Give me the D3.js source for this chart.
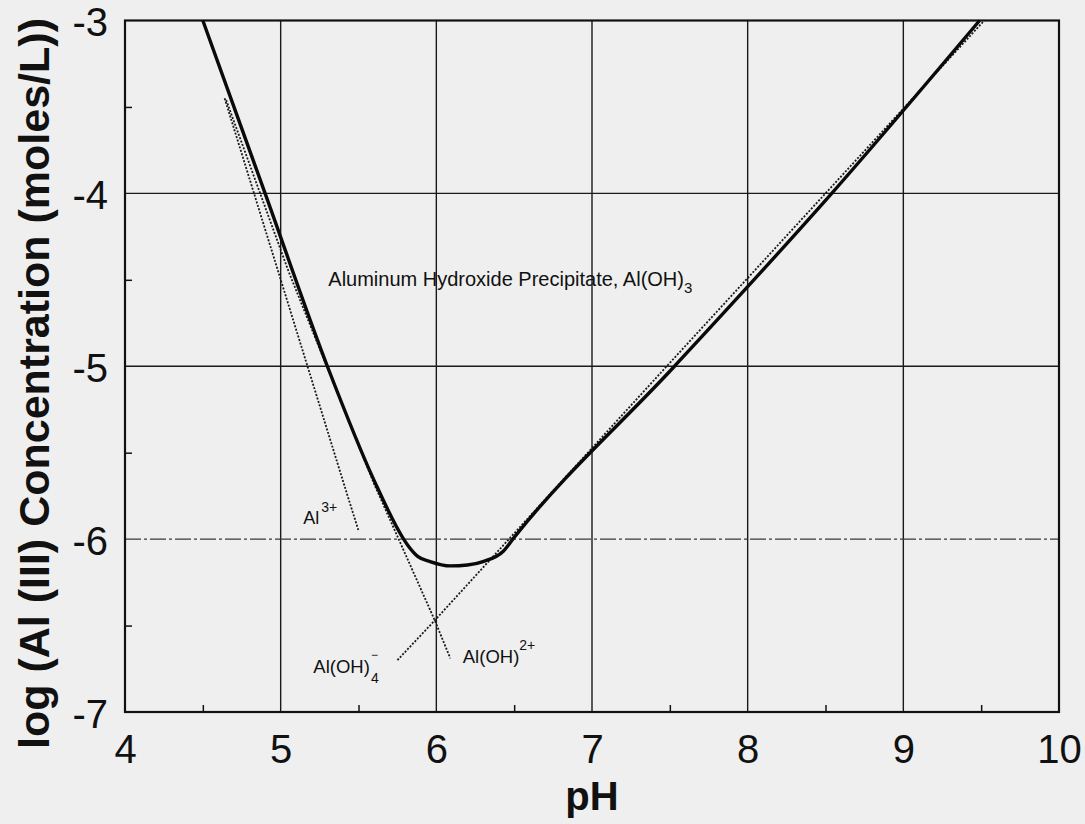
<!DOCTYPE html>
<html>
<head>
<meta charset="utf-8">
<script src="https://cdn.jsdelivr.net/npm/d3@7"></script>
<style>
  body { margin: 0; background: #efefef; }
  svg { display: block; font-family: "Liberation Sans", Arial, sans-serif; }
</style>
</head>
<body>
<div id="chart-area"></div>
<script>
// total dissolved Al (solid curve)
var totalPH  = [4.50, 4.90, 5.30, 5.60, 5.79, 5.82, 5.88, 5.96, 6.09, 6.20, 6.30, 6.43, 6.50, 7.53, 8.54, 9.49];
var totalLog = [-3.00, -4.00, -5.00, -5.66, -6.00, -6.04, -6.10, -6.13, -6.155, -6.15, -6.13, -6.07, -5.99, -5.00, -4.00, -3.00];

// species lines (dotted)
var al3PH  = [4.64, 5.43, 5.50];
var al3Log = [-3.45, -5.75, -5.95];

var aloh2PH  = [4.65, 5.05, 5.60, 5.99, 6.09];
var aloh2Log = [-3.46, -4.45, -5.68, -6.47, -6.69];

var aloh4PH  = [5.75, 5.99, 7.48, 9.52];
var aloh4Log = [-6.70, -6.47, -5.00, -3.00];

var xTicks = [4, 5, 6, 7, 8, 9, 10];
var yTicks = [-3, -4, -5, -6, -7];
var xMinor = [4.5, 5.5, 6.5, 7.5, 8.5, 9.5];
var yMinor = [-3.5, -4.5, -5.5, -6.5];

var margin = {top: 20.5, right: 26, bottom: 112, left: 125};
var width = 1085 - margin.left - margin.right;
var height = 824 - margin.top - margin.bottom;

var svg = d3.select("#chart-area").append("svg")
    .attr("width", 1085)
    .attr("height", 824)
    .append("g")
    .attr("transform", "translate(" + margin.left + "," + margin.top + ")");

var xScale = d3.scaleLinear().domain([4, 10]).range([0, width]);
var yScale = d3.scaleLinear().domain([-7, -3]).range([height, 0]);

// grid
svg.selectAll(".vgrid").data([5, 6, 7, 8, 9]).enter().append("line")
    .attr("x1", function(d) { return xScale(d); })
    .attr("x2", function(d) { return xScale(d); })
    .attr("y1", 0).attr("y2", height)
    .style("stroke", "#1a1a1a").style("stroke-width", 1.4);

svg.selectAll(".hgrid").data([-4, -5, -6]).enter().append("line")
    .attr("x1", 0).attr("x2", width)
    .attr("y1", function(d) { return yScale(d); })
    .attr("y2", function(d) { return yScale(d); })
    .style("stroke", function(d) { return d == -6 ? "#3a3a3a" : "#1a1a1a"; })
    .style("stroke-width", 1.4)
    .style("stroke-dasharray", function(d) { return d == -6 ? "16,3,3,3" : null; });

// minor ticks (inside)
var xMinorAxis = d3.axisBottom(xScale).tickValues(xMinor).tickSize(-7).tickFormat("");
svg.append("g").attr("transform", "translate(0," + height + ")").call(xMinorAxis)
    .call(function(g) { g.select(".domain").remove(); })
    .selectAll("line").style("stroke", "#111").style("stroke-width", 1.5);

var yMinorAxis = d3.axisLeft(yScale).tickValues(yMinor).tickSize(-7).tickFormat("");
svg.append("g").call(yMinorAxis)
    .call(function(g) { g.select(".domain").remove(); })
    .selectAll("line").style("stroke", "#111").style("stroke-width", 1.5);

// tick labels
var xAxis = d3.axisBottom(xScale).tickValues(xTicks).tickSize(0).tickPadding(0).tickFormat(d3.format("d"));
var xg = svg.append("g").attr("transform", "translate(0," + height + ")").call(xAxis);
xg.select(".domain").remove();
xg.selectAll("text")
    .attr("y", 51).attr("dy", null)
    .style("font-size", "40px").style("fill", "#111")
    .style("font-family", "'Liberation Sans', Arial, sans-serif");

var yAxis = d3.axisLeft(yScale).tickValues(yTicks).tickSize(0).tickPadding(17).tickFormat(d3.format("d"));
var yg = svg.append("g").call(yAxis);
yg.select(".domain").remove();
yg.selectAll("text")
    .attr("dy", "0.38em")
    .style("font-size", "40px").style("fill", "#111")
    .style("font-family", "'Liberation Sans', Arial, sans-serif");
yg.selectAll("text").text(function(d) { return "-" + Math.abs(d); });

// frame
svg.append("rect")
    .attr("x", 0).attr("y", 0)
    .attr("width", width).attr("height", height)
    .style("fill", "none").style("stroke", "#111").style("stroke-width", 2.2);

// lines
var line = d3.line()
    .x(function(d) { return xScale(d[0]); })
    .y(function(d) { return yScale(d[1]); });

function pairs(xs, ys) { return xs.map(function(x, i) { return [x, ys[i]]; }); }

var dotted = [pairs(al3PH, al3Log), pairs(aloh2PH, aloh2Log), pairs(aloh4PH, aloh4Log)];
svg.selectAll(".species").data(dotted).enter().append("path")
    .attr("d", line)
    .style("fill", "none")
    .style("stroke", "#1a1a1a")
    .style("stroke-width", 1.8)
    .style("stroke-dasharray", "2,1.6");

svg.append("path")
    .datum(pairs(totalPH, totalLog))
    .attr("d", line.curve(d3.curveMonotoneX))
    .style("fill", "none")
    .style("stroke", "#0a0a0a")
    .style("stroke-width", 3.4)
    .style("stroke-linejoin", "round");

// annotations: parts are [text, shift(px), size(px), dx]
function label(x, y, size, parts) {
    var t = svg.append("text")
        .attr("x", xScale(x)).attr("y", yScale(y))
        .style("font-size", size + "px").style("fill", "#111");
    parts.forEach(function(p) {
        var s = t.append("tspan").text(p[0]);
        if (p[1]) s.attr("baseline-shift", p[1] + "px");
        if (p[2]) s.style("font-size", p[2] + "px");
        if (p[3]) s.attr("dx", p[3]);
    });
    return t;
}

label(5.306, -4.535, 20, [["Aluminum Hydroxide Precipitate, Al(OH)"], ["3", -7, 15]]);
label(5.145, -5.91, 18, [["Al"], ["3+", 12, 14, 2]]);
label(5.21, -6.774, 18.5, [["Al(OH)"], ["\u2212", 14, 12, 1], ["4", -10, 14, -7]]);
label(6.17, -6.716, 18.5, [["Al(OH)"], ["2+", 13, 14]]);

// axis titles
svg.append("text")
    .attr("x", xScale(7)).attr("y", height + 98)
    .attr("text-anchor", "middle")
    .style("font-size", "40px").style("font-weight", "bold").style("fill", "#111")
    .text("pH");

svg.append("text")
    .attr("transform", "translate(" + (-76) + "," + 363 + ") rotate(-90)")
    .attr("text-anchor", "middle")
    .style("font-size", "43px").style("font-weight", "bold").style("fill", "#111")
    .text("log (Al (III) Concentration (moles/L))");
</script>
</body>
</html>
